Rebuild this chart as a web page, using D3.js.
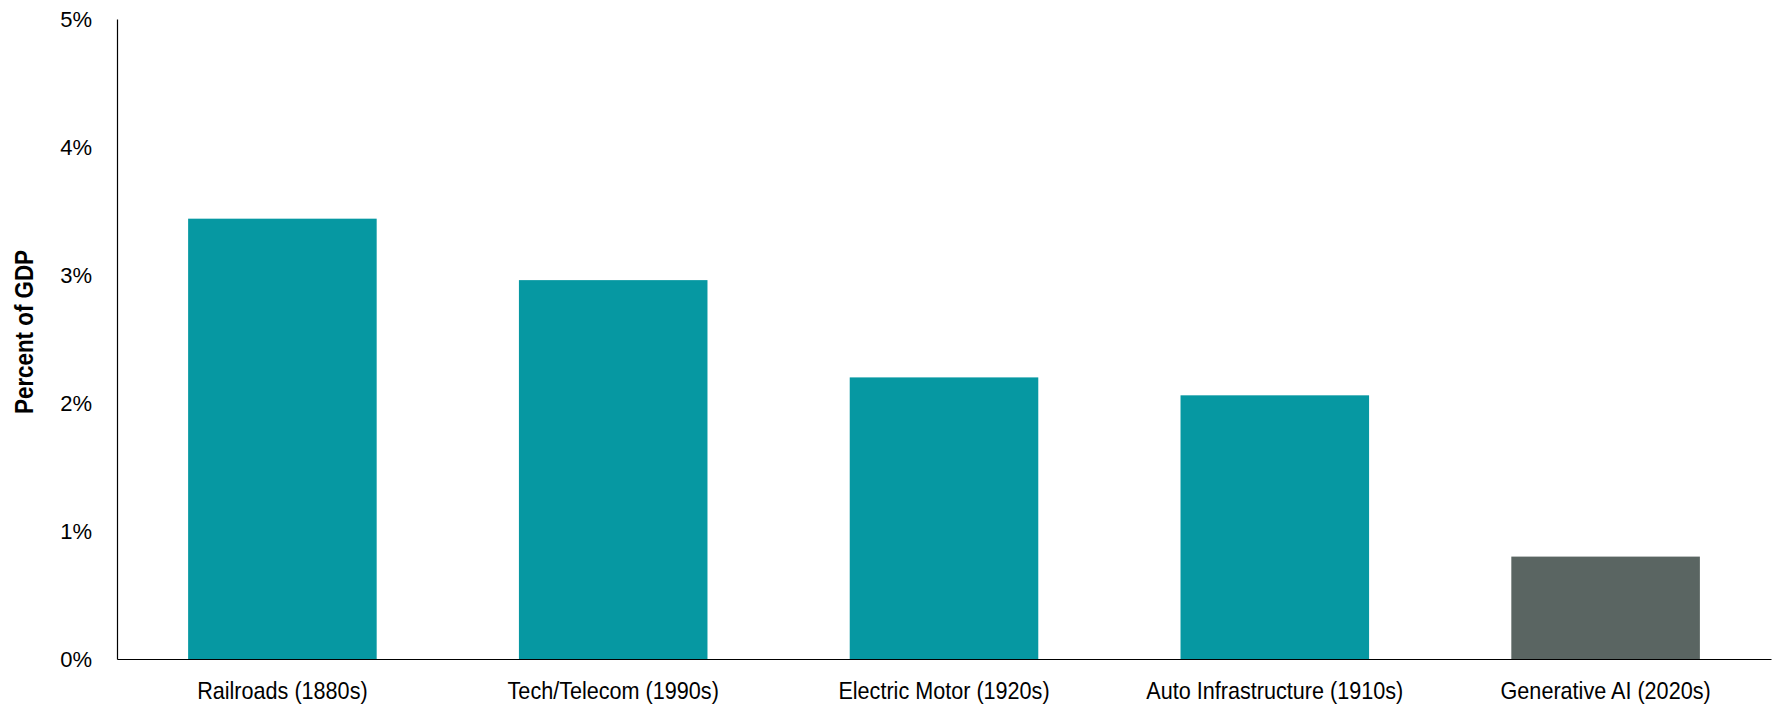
<!DOCTYPE html>
<html>
<head>
<meta charset="utf-8">
<script src="https://cdn.jsdelivr.net/npm/d3@7"></script>
<style>
  body { margin: 0; background: #fff; }
  svg { display: block; }
</style>
</head>
<body>
<svg id="chart" width="1772" height="707"></svg>
<script>
const categories = ['Railroads (1880s)', 'Tech/Telecom (1990s)', 'Electric Motor (1920s)', 'Auto Infrastructure (1910s)', 'Generative AI (2020s)'];
const values = [3.44, 2.96, 2.2, 2.06, 0.8];
const barColors = ['#0698a2', '#0698a2', '#0698a2', '#0698a2', '#5a6562'];
const yTicks = [0, 1, 2, 3, 4, 5];

const margin = { top: 19, right: 1, bottom: 48, left: 117 };
const width = 1772 - margin.left - margin.right;
const height = 707 - margin.top - margin.bottom;
const fontFamily = '"Liberation Sans", Arial, sans-serif';

const svg = d3.select('#chart');
const g = svg.append('g').attr('transform', `translate(${margin.left},${margin.top})`);

const x = d3.scaleBand()
  .domain(categories)
  .range([0, width])
  .paddingInner(0.43)
  .paddingOuter(0.215);

const y = d3.scaleLinear()
  .domain([0, 5])
  .range([height, 0]);

// bars
g.selectAll('.bar')
  .data(categories.map((c, i) => ({ c, v: values[i], color: barColors[i] })))
  .enter().append('rect')
  .attr('class', 'bar')
  .attr('x', d => x(d.c))
  .attr('width', x.bandwidth())
  .attr('y', d => y(d.v))
  .attr('height', d => height - y(d.v))
  .attr('fill', d => d.color);

// y axis
const yAxis = g.append('g')
  .call(d3.axisLeft(y).tickValues(yTicks).tickSize(0).tickPadding(25).tickFormat(d => d + '%'));
yAxis.select('.domain').attr('stroke', '#000').attr('stroke-width', 1.2);
yAxis.selectAll('text')
  .attr('font-family', fontFamily)
  .attr('font-size', 22)
  .attr('fill', '#000');

// x axis (labels squeezed a little, the original uses a narrow face)
const xAxis = g.append('g')
  .attr('transform', `translate(0,${height})`)
  .call(d3.axisBottom(x).tickSize(0).tickPadding(23));
xAxis.select('.domain').attr('stroke', '#000').attr('stroke-width', 1.2);
xAxis.selectAll('text')
  .attr('font-family', fontFamily)
  .attr('font-size', 24)
  .attr('transform', 'scale(0.9,1)')
  .attr('fill', '#000');

// y title
svg.append('text')
  .attr('transform', `translate(33,332) rotate(-90) scale(0.86,1)`)
  .attr('text-anchor', 'middle')
  .attr('font-family', fontFamily)
  .attr('font-weight', 'bold')
  .attr('font-size', 26)
  .attr('fill', '#000')
  .text('Percent of GDP');
</script>
</body>
</html>
